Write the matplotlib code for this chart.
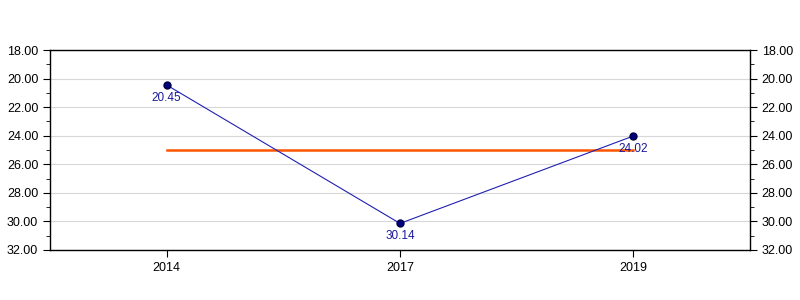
import matplotlib.pyplot as plt
from matplotlib.ticker import MultipleLocator, FormatStrFormatter

plt.rcParams['font.family'] = ['Liberation Sans', 'DejaVu Sans']

years = ['2014', '2017', '2019']
values = [20.45, 30.14, 24.02]
average = 25.0

fig = plt.figure(figsize=(8, 3), dpi=100)
ax = fig.add_axes([50 / 800, 50 / 300, 700 / 800, 200 / 300])
x = list(range(len(years)))

ax.plot(x, values, color='#2020b0', linewidth=0.8, marker='o', markersize=5,
        markerfacecolor='#000080', markeredgecolor='#000040', zorder=3)
ax.plot([x[0], x[-1]], [average, average], color='#ff5500', linewidth=1.8, zorder=2)

for xi, v in zip(x, values):
    ax.annotate(f'{v:.2f}', (xi, v), xytext=(0, -5), textcoords='offset points',
                ha='center', va='top', fontsize=8.5, color='#1a1a99')

ax.set_xlim(-0.5, len(years) - 0.5)
ax.set_xticks(x)
ax.set_xticklabels(years)
ax.set_ylim(32, 18)
ax.yaxis.set_major_locator(MultipleLocator(2))
ax.yaxis.set_minor_locator(MultipleLocator(1))
ax.yaxis.set_major_formatter(FormatStrFormatter('%.2f'))
ax.grid(axis='y', color='#d8d8d8', linewidth=0.8)
ax.set_axisbelow(True)
ax.tick_params(axis='y', which='both', left=True, right=True, labelleft=True, labelright=True,
               labelsize=9)
ax.tick_params(axis='y', which='major', length=5)
ax.tick_params(axis='y', which='minor', length=3)
ax.tick_params(axis='x', labelsize=9, length=5)
for s in ax.spines.values():
    s.set_linewidth(1)

fig.savefig('out.png')
